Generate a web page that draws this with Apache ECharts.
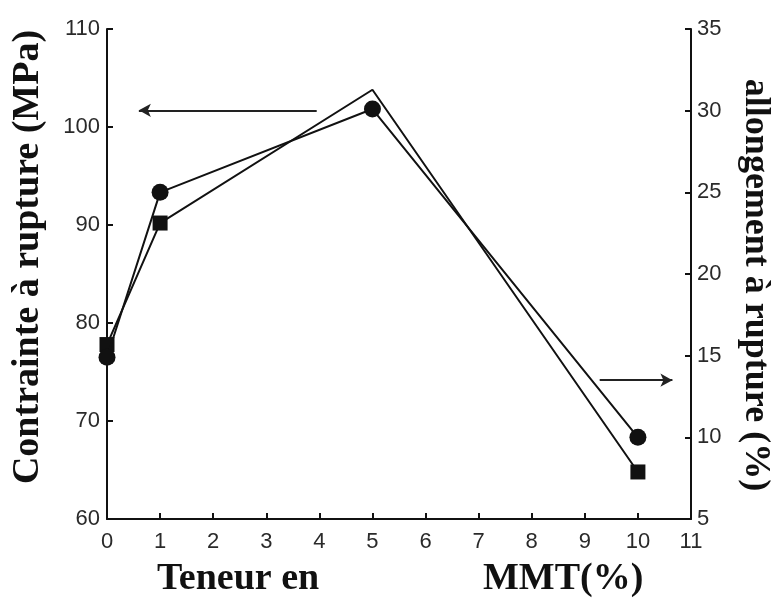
<!DOCTYPE html>
<html>
<head>
<meta charset="utf-8">
<script src="https://cdn.jsdelivr.net/npm/echarts@6/dist/echarts.min.js"></script>
<style>
    html, body { margin: 0; padding: 0; background: #fff; }
    #main { width: 780px; height: 601px; }
</style>
</head>
<body>
<div id="main"></div>
<script>
// 数据
const mmt = [0, 1, 5, 10]
// 左轴: 断裂强度 (MPa) - 方块
const contrainte = [77.8, 90.2, 103.8, 64.8]
// 右轴: 断裂伸长率 (%) - 圆点
const allongement = [14.9, 25.0, 30.1, 10.0]

const xTicks = [0, 1, 2, 3, 4, 5, 6, 7, 8, 9, 10, 11]
const leftTicks = [60, 70, 80, 90, 100, 110]
const rightTicks = [5, 10, 15, 20, 25, 30, 35]

// 箭头标注 (数据坐标)
const arrowLeft = { y: 101.7, from: 3.95, to: 0.6 }
const arrowRight = { y: 13.5, from: 9.28, to: 10.65 }

const serif = '"Liberation Serif", "Times New Roman", serif'
const sans = '"Liberation Sans", Arial, sans-serif'

const mychart = echarts.init(document.getElementById('main'))

const tickLabel = { color: '#2a2a2a', fontFamily: sans, fontSize: 22 }
const black = '#111'

let option = {
    animation: false,
    grid: { left: 107, right: 89, top: 29, bottom: 82 },
    xAxis: {
        type: 'value',
        min: xTicks[0],
        max: xTicks[xTicks.length - 1],
        interval: 1,
        axisLine: { lineStyle: { color: black, width: 2 } },
        axisTick: { inside: true, length: 6, lineStyle: { color: black, width: 2 } },
        axisLabel: Object.assign({}, tickLabel, { margin: 12 }),
        splitLine: { show: false },
    },
    yAxis: [
        {
            type: 'value',
            position: 'left',
            min: leftTicks[0],
            max: leftTicks[leftTicks.length - 1],
            interval: 10,
            axisLine: { show: true, lineStyle: { color: black, width: 2 } },
            axisTick: { show: true, inside: true, length: 6, lineStyle: { color: black, width: 2 } },
            axisLabel: Object.assign({}, tickLabel, { margin: 7 }),
            splitLine: { show: false },
        },
        {
            type: 'value',
            position: 'right',
            min: rightTicks[0],
            max: rightTicks[rightTicks.length - 1],
            interval: 5,
            axisLine: { show: true, lineStyle: { color: black, width: 2 } },
            axisTick: { show: true, inside: true, length: 6, lineStyle: { color: black, width: 2 } },
            axisLabel: Object.assign({}, tickLabel, { margin: 6 }),
            splitLine: { show: false },
        },
    ],
    series: [
        {
            name: 'Contrainte',
            type: 'line',
            yAxisIndex: 0,
            // x=5 处方块不可见
            data: mmt.map((x, i) => (x === 5 ? { value: [x, contrainte[i]], symbol: 'none' } : [x, contrainte[i]])),
            symbol: 'rect',
            symbolSize: 15,
            lineStyle: { color: black, width: 2 },
            itemStyle: { color: black },
            z: 3,
            markLine: {
                silent: true,
                symbol: ['none', 'arrow'],
                symbolSize: [10, 12],
                label: { show: false },
                lineStyle: { color: '#222', width: 2, type: 'solid' },
                data: [
                    [
                        { coord: [arrowLeft.from, arrowLeft.y] },
                        { coord: [arrowLeft.to, arrowLeft.y] },
                    ],
                ],
            },
        },
        {
            name: 'Allongement',
            type: 'line',
            yAxisIndex: 1,
            data: mmt.map((x, i) => [x, allongement[i]]),
            symbol: 'circle',
            symbolSize: 17,
            lineStyle: { color: black, width: 2 },
            itemStyle: { color: black },
            z: 4,
            markLine: {
                silent: true,
                symbol: ['none', 'arrow'],
                symbolSize: [10, 12],
                label: { show: false },
                lineStyle: { color: '#222', width: 2, type: 'solid' },
                data: [
                    [
                        { coord: [arrowRight.from, arrowRight.y] },
                        { coord: [arrowRight.to, arrowRight.y] },
                    ],
                ],
            },
        },
    ],
    // 轴标题
    graphic: [
        {
            type: 'text',
            x: 28,
            y: 257,
            rotation: Math.PI / 2,
            style: {
                text: 'Contrainte à rupture (MPa)',
                font: 'bold 38px ' + serif,
                fill: black,
                align: 'center',
                verticalAlign: 'middle',
            },
        },
        {
            type: 'text',
            x: 755,
            y: 285,
            rotation: -Math.PI / 2,
            style: {
                text: 'allongement à rupture (%)',
                font: 'bold 36px ' + serif,
                fill: black,
                align: 'center',
                verticalAlign: 'middle',
            },
        },
        {
            type: 'text',
            left: 157,
            top: 560,
            style: { text: 'Teneur en', font: 'bold 38px ' + serif, fill: black },
        },
        {
            type: 'text',
            left: 483,
            top: 560,
            style: { text: 'MMT(%)', font: 'bold 38px ' + serif, fill: black },
        },
    ],
}

mychart.setOption(option)
</script>
</body>
</html>
